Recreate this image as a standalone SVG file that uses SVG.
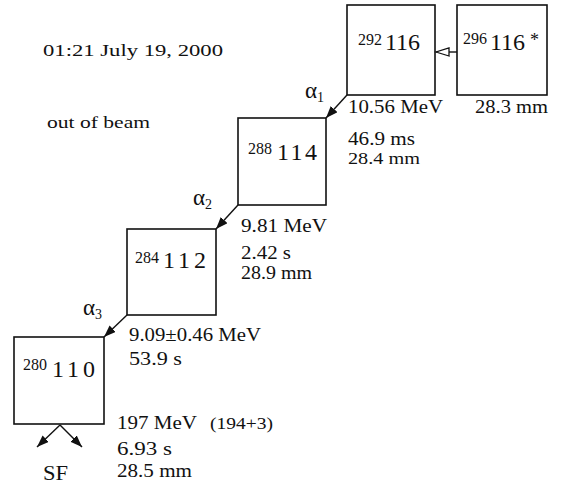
<svg xmlns="http://www.w3.org/2000/svg" width="571" height="493" viewBox="0 0 571 493">
<style>
text{font-family:"Liberation Serif","Times New Roman",serif;fill:#111}
.box{fill:#fff;stroke:#111;stroke-width:1.6}
.sup{font-size:16px}
.main{font-size:24px}
.t{font-size:18px}
.a{font-size:23px}
.s{font-size:14px}
.c{stroke:#111;stroke-width:1.4;fill:none}
</style>
<defs>
<marker id="ah" markerUnits="userSpaceOnUse" markerWidth="13" markerHeight="10" refX="12" refY="4.5" orient="auto">
<path d="M0,0 L12,4.5 L0,9 z" fill="#111"/>
</marker>
<marker id="hol" markerUnits="userSpaceOnUse" markerWidth="16" markerHeight="12" refX="14" refY="5" orient="auto">
<path d="M1,1 L14,5 L1,9 z" fill="#fff" stroke="#111" stroke-width="1.3"/>
</marker>
</defs>
<text x="43" y="56" font-size="17" textLength="180" lengthAdjust="spacingAndGlyphs">01:21  July 19, 2000</text>
<text x="47" y="128" font-size="17" textLength="103" lengthAdjust="spacingAndGlyphs">out of beam</text>
<g id="n292">
<rect class="box" x="347" y="5" width="88" height="90"/>
<text class="sup" x="358" y="45">292</text>
<text class="main" x="385" y="50">116</text>
<text class="t" x="348" y="113" textLength="95" lengthAdjust="spacingAndGlyphs">10.56 MeV</text>
<text class="t" x="348" y="145" textLength="67" lengthAdjust="spacingAndGlyphs">46.9 ms</text>
<text x="348" y="164" font-size="17" textLength="72" lengthAdjust="spacingAndGlyphs">28.4 mm</text>
</g>
<g id="n296">
<rect class="box" x="457" y="5" width="90" height="90"/>
<text class="sup" x="463" y="44">296</text>
<text class="main" x="490" y="50">116</text>
<text x="530" y="46" font-size="18">*</text>
<text class="t" x="475" y="113" textLength="73" lengthAdjust="spacingAndGlyphs">28.3 mm</text>
</g>
<g id="n288">
<rect class="box" x="238" y="118" width="88" height="87"/>
<text class="sup" x="248" y="154">288</text>
<text class="main" x="277" y="160" textLength="40" lengthAdjust="spacing">114</text>
<text class="t" x="241" y="232" textLength="86" lengthAdjust="spacingAndGlyphs">9.81 MeV</text>
<text class="t" x="241" y="259" textLength="50" lengthAdjust="spacingAndGlyphs">2.42 s</text>
<text class="t" x="241" y="279" textLength="71" lengthAdjust="spacingAndGlyphs">28.9 mm</text>
</g>
<g id="n284">
<rect class="box" x="127" y="229" width="89" height="86"/>
<text class="sup" x="135" y="263">284</text>
<text class="main" x="163" y="268" textLength="43" lengthAdjust="spacing">112</text>
<text class="t" x="129" y="341" textLength="132" lengthAdjust="spacingAndGlyphs">9.09±0.46 MeV</text>
<text class="t" x="129" y="365" textLength="53" lengthAdjust="spacingAndGlyphs">53.9 s</text>
</g>
<g id="n280">
<rect class="box" x="14" y="337" width="90" height="87"/>
<text class="sup" x="23" y="370">280</text>
<text class="main" x="52" y="377" textLength="43" lengthAdjust="spacing">110</text>
<text class="t" x="117" y="429" textLength="80" lengthAdjust="spacingAndGlyphs">197 MeV</text>
<text x="210" y="429" font-size="16" textLength="63" lengthAdjust="spacingAndGlyphs">(194+3)</text>
<text class="t" x="117" y="455" textLength="55" lengthAdjust="spacingAndGlyphs">6.93 s</text>
<text class="t" x="117" y="477" textLength="75" lengthAdjust="spacingAndGlyphs">28.5 mm</text>
</g>
<g id="sf">
<text x="43" y="480" font-size="20" textLength="25" lengthAdjust="spacingAndGlyphs">SF</text>
</g>
<g id="connectors">
<line class="c" x1="457" y1="52" x2="436" y2="52" marker-end="url(#hol)"/>
<line class="c" x1="347" y1="95" x2="326" y2="118" marker-end="url(#ah)"/>
<line class="c" x1="238" y1="205" x2="216" y2="229" marker-end="url(#ah)"/>
<line class="c" x1="127" y1="315" x2="104" y2="337" marker-end="url(#ah)"/>
<line class="c" x1="60" y1="425" x2="37" y2="447" marker-end="url(#ah)"/>
<line class="c" x1="60" y1="425" x2="82" y2="447" marker-end="url(#ah)"/>
<text class="a" x="305" y="98">α<tspan class="s" dy="4">1</tspan></text>
<text class="a" x="193" y="205">α<tspan class="s" dy="4">2</tspan></text>
<text class="a" x="83" y="315">α<tspan class="s" dy="4">3</tspan></text>
</g>
</svg>
